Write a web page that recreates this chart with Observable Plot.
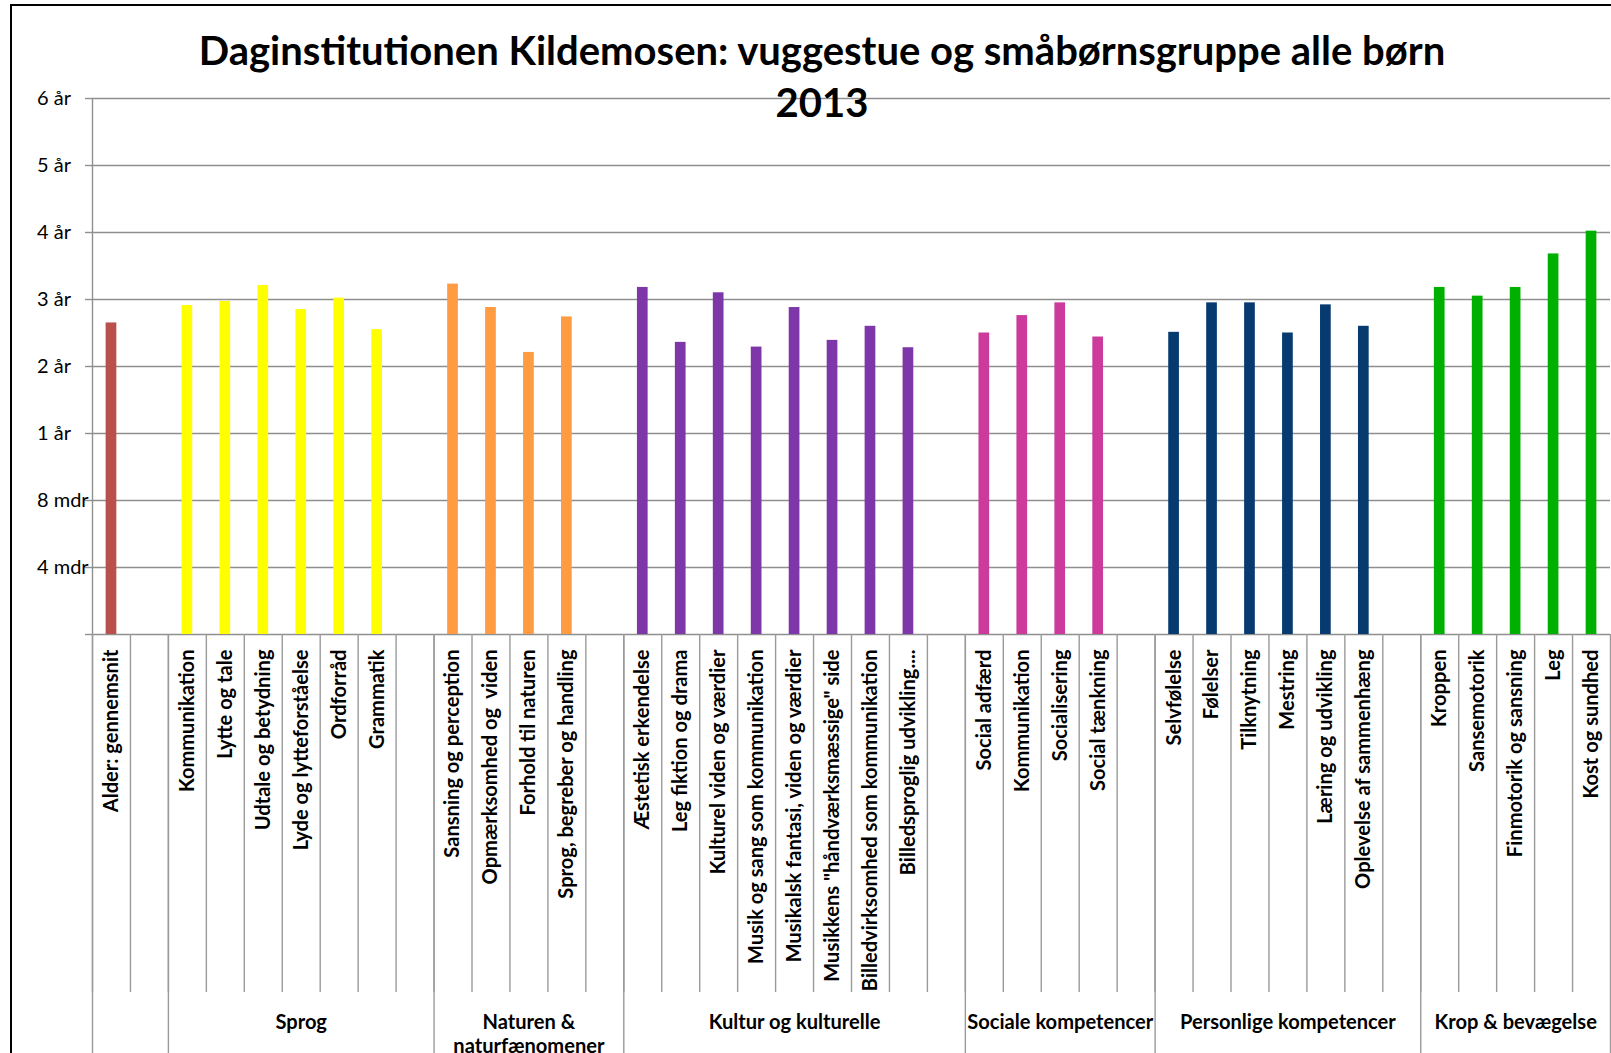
<!DOCTYPE html>
<html>
<head>
<meta charset="utf-8">
<script src="https://cdn.jsdelivr.net/npm/d3@7"></script>
<script src="https://cdn.jsdelivr.net/npm/@observablehq/plot@0.6"></script>
<style>
  html, body { margin: 0; padding: 0; background: #fff; overflow: hidden; }
  #wrap { position: relative; width: 1611px; height: 1053px; overflow: hidden; }
  #chart { position: absolute; left: 0; top: 0; }
  #title { position: absolute; left: 0; width: 1644px; top: 25px; text-align: center;
           font-family: Lato, "Open Sans", sans-serif; font-weight: bold; font-size: 40px;
           line-height: 51.5px; color: #000; }
  #border { position: absolute; left: 10px; top: 4px; width: 2000px; height: 2000px;
            border: 2.7px solid #000; box-sizing: border-box; pointer-events: none; }
</style>
</head>
<body>
<div id="wrap">
  <div id="chart"></div>
  <div id="title">Daginstitutionen Kildemosen: vuggestue og småbørnsgruppe alle børn<br>2013</div>
  <div id="border"></div>
</div>
<script>
// ---- data ----
const categories = [
  "Alder: gennemsnit", "",
  "Kommunikation", "Lytte og tale", "Udtale og betydning", "Lyde og lytteforståelse", "Ordforråd", "Grammatik", "",
  "Sansning og perception", "Opmærksomhed og  viden", "Forhold til naturen", "Sprog, begreber og handling", "",
  "Æstetisk erkendelse", "Leg fiktion og drama", "Kulturel viden og værdier", "Musik og sang som kommunikation",
  "Musikalsk fantasi, viden og værdier", "Musikkens \"håndværksmæssige\" side", "Billedvirksomhed som kommunikation", "Billedsproglig udvikling....", "",
  "Social adfærd", "Kommunikation", "Socialisering", "Social tænkning", "",
  "Selvfølelse", "Følelser", "Tilknytning", "Mestring", "Læring og udvikling", "Oplevelse af sammenhæng", "",
  "Kroppen", "Sansemotorik", "Finmotorik og sansning", "Leg", "Kost og sundhed"
];
// values in axis steps: 1 = 4 mdr, 2 = 8 mdr, 3 = 1 år, 4 = 2 år, 5 = 3 år, 6 = 4 år ...
const values = [
  4.65, null,
  4.91, 4.97, 5.21, 4.85, 5.02, 4.55, null,
  5.23, 4.88, 4.21, 4.74, null,
  5.18, 4.36, 5.10, 4.29, 4.88, 4.39, 4.60, 4.28, null,
  4.50, 4.76, 4.95, 4.44, null,
  4.51, 4.95, 4.95, 4.50, 4.92, 4.60, null,
  5.18, 5.05, 5.18, 5.68, 6.02
];
const groupNames = ["", "Sprog", "Naturen &\nnaturfænomener", "Kultur og kulturelle", "Sociale kompetencer", "Personlige kompetencer", "Krop & bevægelse"];
const groupSizes = [2, 7, 5, 9, 5, 7, 5];
const groupColors = ["#B9504C", "#FFFF00", "#FF9B41", "#7E37A9", "#CC3A9C", "#073B6F", "#00B000"];
const yTickValues = [0, 1, 2, 3, 4, 5, 6, 7, 8];
const yTickLabels = ["", "4 mdr", "8 mdr", "1 år", "2 år", "3 år", "4 år", "5 år", "6 år"];

// ---- derived tables ----
const groupStarts = [];
let acc = 0;
for (const s of groupSizes) { groupStarts.push(acc); acc += s; }
const groupOfIndex = [];
groupSizes.forEach((s, g) => { for (let k = 0; k < s; k++) groupOfIndex.push(g); });
const bars = categories.map((c, i) => ({i, label: c, value: values[i], color: groupColors[groupOfIndex[i]]}))
  .filter(d => d.value != null);
const groupLabels = groupNames.map((name, g) => ({name, mid: groupStarts[g] + (groupSizes[g] - 1) / 2}))
  .filter(d => d.name !== "");
const allIdx = d3.range(categories.length);

// ---- layout ----
const W = 1611, H = 1080, mL = 92, mR = 1, mT = 98, mB = H - 634;
const step = (W - mL - mR) / categories.length;
const grid = "#8f8f8f";
const sep = "#9a9a9a";
const font = "Lato, 'Open Sans', sans-serif";

const chart = Plot.plot({
  width: W, height: H,
  marginLeft: mL, marginRight: mR, marginTop: mT, marginBottom: mB,
  style: {fontFamily: font, fontSize: "20px", color: "#000", background: "transparent", overflow: "visible"},
  x: {type: "band", domain: allIdx, paddingInner: 0.718, paddingOuter: 0.359, round: false, axis: null},
  y: {domain: [0, 8], axis: null, label: null},
  color: {type: "identity"},
  marks: [
    Plot.gridY(yTickValues, {stroke: grid, strokeOpacity: 1, strokeWidth: 1.4}),
    Plot.ruleX([0], {x: d => d, dx: -step / 2, stroke: grid, strokeWidth: 1.4}),
    Plot.axisY(yTickValues, {
      label: null,
      tickSize: 7, tickPadding: 48.5, textAnchor: "start",
      tickFormat: d => yTickLabels[yTickValues.indexOf(d)],
      stroke: grid, strokeWidth: 1.4, fill: "#000", fontSize: 20, fontFamily: font
    }),
    Plot.barY(bars, {x: "i", y: "value", fill: "color"}),
    // short category separators below the axis
    Plot.axisX(allIdx, {label: null, tickSize: 358, tickFormat: () => "", dx: -step / 2, stroke: sep, strokeWidth: 1.4}),
    // long group separators
    Plot.axisX(groupStarts, {label: null, tickSize: 460, tickFormat: () => "", dx: -step / 2, stroke: sep, strokeWidth: 1.4}),
    Plot.axisX([categories.length - 1], {label: null, tickSize: 460, tickFormat: () => "", dx: step / 2, stroke: sep, strokeWidth: 1.4}),
    // category labels
    Plot.axisX(allIdx, {
      label: null,
      tickSize: 0, tickPadding: 15, tickRotate: -90,
      tickFormat: i => categories[i],
      fontWeight: "bold", fontSize: 20.1, fontFamily: font, fill: "#000"
    }),
    // group labels
    Plot.text(groupLabels, {
      x: "mid", text: "name", frameAnchor: "bottom", dy: 377, lineAnchor: "top", lineHeight: 1.22,
      fontWeight: "bold", fontSize: 20.1, fontFamily: font, fill: "#000"
    })
  ]
});
document.getElementById("chart").appendChild(chart);
</script>
</body>
</html>
